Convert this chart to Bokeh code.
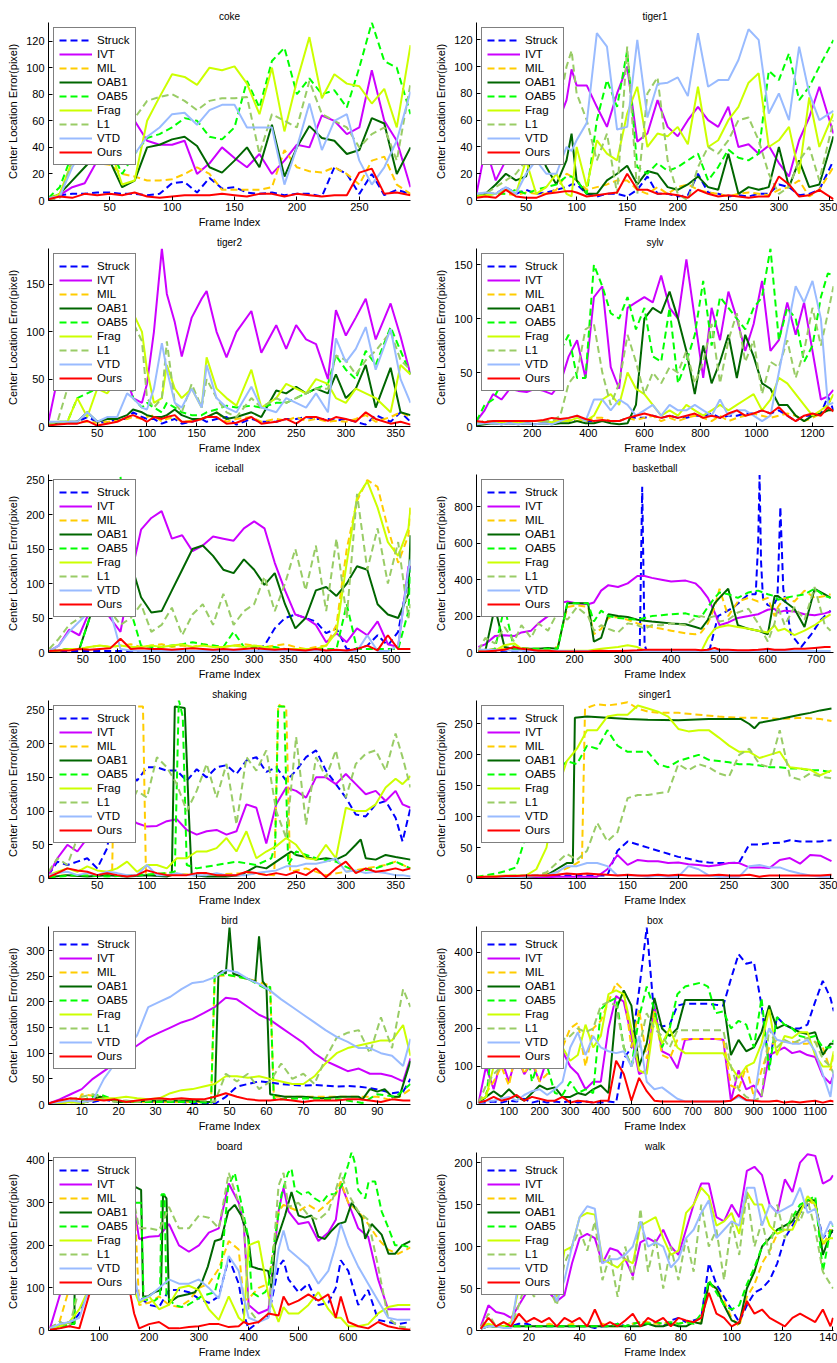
from bokeh.plotting import figure
from bokeh.layouts import gridplot
from bokeh.models import FixedTicker, Range1d, Legend, LegendItem
from bokeh.embed import file_html
from bokeh.resources import INLINE

SERIES = ["Struck", "IVT", "MIL", "OAB1", "OAB5", "Frag", "L1", "VTD", "Ours"]
COLORS = {"Struck": "#0000FF", "IVT": "#CC00FF", "MIL": "#FFCC00", "OAB1": "#006600",
          "OAB5": "#00FF00", "Frag": "#CCFF00", "L1": "#99CC66", "VTD": "#99BBFF", "Ours": "#FF0000"}
DASHED = {"Struck", "MIL", "OAB5", "L1"}
FONT = "Liberation Sans"

# ---------------- coke ----------------
coke_x = [1,10,20,30,40,50,60,70,80,90,100,110,120,130,140,150,160,170,180,190,200,210,220,230,240,250,260,270,280,291]
coke_struck = [2,4,5,5,6,6,5,5,4,5,13,14,6,17,9,10,6,5,6,4,5,5,3,25,20,5,20,4,8,5]
coke_ivt = [2,4,10,13,30,45,40,60,45,42,42,45,20,28,40,32,25,35,20,30,42,40,64,60,50,55,98,60,45,10]
coke_mil = [2,5,28,30,28,27,20,18,15,15,16,20,25,20,8,8,8,8,10,38,25,22,21,25,20,12,30,33,12,5]
coke_oab1 = [1,5,15,25,35,30,10,15,40,42,46,48,41,25,21,30,40,25,57,18,40,56,47,45,35,38,62,58,20,40]
coke_oab5 = [2,10,35,40,45,40,20,35,47,50,55,62,60,48,46,55,90,70,105,115,80,92,80,83,70,100,134,105,100,65]
coke_frag = [1,5,30,35,40,40,12,15,60,78,95,93,87,100,98,101,88,65,100,52,90,123,77,95,88,86,73,84,55,117]
coke_l1 = [0,2,30,32,40,45,50,62,75,78,80,75,68,75,77,77,78,35,65,60,55,90,65,60,55,40,50,55,30,88]
coke_vtd = [2,3,25,40,45,45,40,35,48,55,65,66,57,68,72,72,55,55,55,12,40,73,38,60,65,30,12,25,45,82]
coke_ours = [1,3,2,5,4,5,4,6,3,2,3,4,4,4,5,4,3,5,5,3,5,4,3,4,4,21,24,5,6,4]

# ---------------- tiger1 ----------------
tiger1_x = [1,10,20,30,40,50,60,70,80,90,95,100,110,120,130,140,150,160,170,180,190,200,210,220,230,240,250,260,270,280,290,300,310,320,330,340,354]
tiger1_struck = [3,5,5,10,5,8,5,6,8,10,12,12,5,3,5,5,3,8,18,5,5,3,4,20,6,5,3,4,3,5,5,12,10,4,5,8,30]
tiger1_ivt = [5,40,15,30,40,45,50,55,55,75,98,86,86,70,55,80,100,44,50,75,55,48,60,70,60,55,70,40,42,35,41,28,18,45,62,85,50]
tiger1_mil = [3,5,5,5,4,6,5,5,8,20,18,15,8,10,12,15,15,8,5,10,5,10,12,8,6,5,3,5,6,5,4,8,10,15,3,8,25]
tiger1_oab1 = [3,5,12,20,15,18,45,25,12,30,50,15,5,5,15,20,26,12,22,20,10,8,12,18,10,8,35,5,10,8,10,40,10,30,10,12,48]
tiger1_oab5 = [3,4,5,5,8,5,8,10,12,18,18,15,5,60,90,70,112,25,20,28,22,25,30,35,15,25,38,32,30,35,97,90,110,75,85,100,120]
tiger1_frag = [3,4,5,8,5,30,5,10,20,5,3,40,10,45,35,30,65,85,40,50,48,55,42,85,40,45,60,70,88,95,40,45,55,20,77,40,65]
tiger1_l1 = [5,5,10,15,20,30,40,50,60,100,112,80,60,30,50,5,115,5,80,92,30,5,0,25,40,35,45,60,62,45,20,5,10,30,40,15,60]
tiger1_vtd = [5,6,5,10,5,20,30,20,20,40,37,45,58,125,115,53,55,120,62,87,88,92,78,125,85,90,90,105,128,120,65,80,60,115,80,60,67]
tiger1_ours = [2,3,2,8,3,2,2,5,6,7,7,6,3,4,5,6,20,8,8,5,5,4,2,8,5,3,4,3,2,3,3,18,12,3,4,8,1]

# ---------------- tiger2 ----------------
tiger2_x = [1,10,20,30,40,50,60,70,80,86,95,100,107,115,120,128,135,145,155,160,170,180,190,205,215,230,240,250,260,270,282,290,300,310,320,330,345,355,365]
tiger2_struck = [3,3,4,5,10,5,4,8,8,15,10,8,8,3,5,8,3,5,8,5,8,10,2,8,5,5,8,8,10,8,8,6,8,5,2,12,5,15,5]
tiger2_ivt = [5,50,90,110,120,115,100,80,50,30,25,45,100,188,140,110,74,115,135,143,100,73,100,122,78,107,82,107,92,87,50,123,96,115,135,92,130,95,55]
tiger2_mil = [3,3,4,5,5,4,5,6,8,10,8,10,12,5,8,10,5,6,8,10,15,5,8,10,5,8,6,10,6,8,5,6,5,8,12,5,10,15,10]
tiger2_oab1 = [3,4,5,5,15,5,8,8,12,18,15,12,10,10,12,18,12,8,8,10,15,8,10,15,10,38,35,42,35,40,35,55,30,40,65,20,62,15,12]
tiger2_oab5 = [3,5,5,30,35,40,45,50,110,30,20,25,20,15,25,20,15,12,12,15,18,22,20,22,20,25,25,30,35,40,45,75,60,50,80,65,105,80,55]
tiger2_frag = [3,5,5,30,10,40,35,50,135,120,100,60,25,30,65,40,30,40,20,73,40,30,22,60,20,30,45,40,35,50,45,30,25,40,35,30,15,65,55]
tiger2_l1 = [3,5,40,50,45,60,70,100,120,110,90,30,20,30,90,25,15,45,20,50,30,15,10,30,20,30,25,30,35,40,40,75,70,55,70,80,100,70,60]
tiger2_vtd = [5,5,5,5,15,5,10,10,35,30,20,18,40,88,60,25,20,40,20,65,30,20,15,42,20,15,30,25,20,35,15,93,68,82,105,60,103,50,25]
tiger2_ours = [1,2,3,3,6,1,3,5,10,12,8,5,10,8,10,12,5,5,8,10,10,3,4,10,3,5,8,3,10,10,6,10,8,5,15,8,3,5,2]

# ---------------- sylv ----------------
sylv_x = [1,30,60,90,120,150,180,210,240,270,300,330,360,390,420,450,480,510,540,570,600,630,660,690,720,750,780,810,840,870,900,930,960,990,1020,1050,1080,1110,1140,1170,1200,1230,1255,1275]
sylv_struck = [2,5,5,4,5,5,5,5,5,4,6,5,5,5,5,5,5,5,8,8,8,10,8,10,8,8,10,10,12,8,10,10,12,12,15,12,15,10,5,10,10,12,28,15]
sylv_ivt = [5,15,30,25,35,33,32,35,33,30,40,65,80,45,120,130,55,35,110,115,120,115,140,110,100,155,100,45,110,80,125,100,70,95,135,70,80,115,85,115,70,25,28,34]
sylv_mil = [3,5,5,4,5,5,5,5,5,6,5,6,5,5,8,8,5,5,8,6,8,10,5,8,5,8,10,8,5,10,5,8,10,12,10,8,10,12,10,5,8,12,15,15]
sylv_oab1 = [1,2,3,2,3,2,3,2,3,2,3,3,5,3,3,5,3,2,3,20,100,110,105,125,100,70,30,75,40,60,85,45,85,65,40,35,20,20,10,5,10,12,15,15]
sylv_oab5 = [5,20,25,40,45,40,45,50,55,60,70,85,45,45,150,130,105,100,120,90,110,65,60,110,40,60,85,135,75,120,110,100,90,110,120,165,80,110,100,60,75,120,142,140]
sylv_frag = [3,3,5,4,5,3,5,5,5,4,5,5,8,5,10,25,30,20,50,35,30,20,10,15,10,20,15,10,15,20,15,20,25,30,15,25,45,40,30,20,10,15,20,30]
sylv_l1 = [3,5,5,5,5,5,5,5,5,5,10,40,50,90,95,50,20,40,85,60,30,50,40,55,50,70,40,60,95,40,80,105,60,80,30,60,55,80,45,70,110,75,105,130]
sylv_vtd = [2,3,3,2,3,2,3,2,3,2,5,8,10,5,25,25,15,25,20,10,15,20,10,20,15,15,20,15,10,25,10,15,15,10,5,10,50,90,130,115,135,100,20,22]
sylv_ours = [5,4,5,5,5,5,5,5,6,8,7,8,10,7,5,6,5,5,8,10,12,10,8,10,8,10,12,8,10,8,12,15,10,12,15,12,18,10,5,10,12,10,18,14]

# ---------------- iceball ----------------
iceball_x = [1,15,30,45,60,75,90,105,120,135,150,165,180,195,210,225,240,255,270,285,300,315,330,345,360,375,390,405,420,435,450,465,480,495,510,525,528]
iceball_struck = [2,2,2,2,2,2,2,2,2,2,2,2,2,2,2,2,2,2,2,2,2,10,35,50,55,50,45,28,35,5,5,10,25,10,30,110,125]
iceball_ivt = [2,10,33,25,60,70,50,30,110,178,195,205,165,170,147,155,168,165,162,180,190,180,130,90,55,50,40,15,28,15,35,25,45,12,8,125,125]
iceball_mil = [2,3,5,5,8,10,8,10,12,8,10,12,8,10,8,12,10,8,10,12,10,8,10,12,8,5,8,10,40,150,220,250,240,180,130,170,210]
iceball_oab1 = [2,3,5,5,50,100,150,170,130,80,58,60,90,120,150,155,140,120,115,135,120,98,115,70,35,50,90,95,82,100,125,120,70,55,50,85,170]
iceball_oab5 = [2,3,5,5,50,80,150,255,60,10,8,8,10,12,15,12,10,8,30,8,8,8,8,5,5,5,5,5,5,70,5,5,5,5,5,60,120]
iceball_frag = [2,3,5,5,8,10,8,10,8,8,10,8,10,12,8,10,8,8,10,8,10,8,5,5,5,5,5,10,30,130,225,248,210,160,140,180,210]
iceball_l1 = [5,20,40,50,60,70,60,40,50,70,30,40,65,25,55,70,40,85,40,60,70,110,60,100,150,90,155,60,165,50,230,120,180,100,160,50,70]
iceball_vtd = [2,10,30,45,60,70,60,5,3,2,2,2,2,2,2,2,2,2,2,2,2,2,2,2,2,2,3,2,3,2,2,25,2,2,10,120,135]
iceball_ours = [2,3,3,5,4,5,6,20,5,6,5,5,4,5,6,5,4,5,4,5,6,5,4,5,4,3,5,3,4,3,5,10,3,25,5,5,5]

# ---------------- basketball ----------------
basketball_x = [1,15,35,55,75,90,110,125,145,165,185,205,228,240,255,270,290,310,330,345,360,380,400,430,450,462,476,490,500,518,538,560,580,600,614,621,635,655,676,697,718,730]
basketball_struck_x = [1,50,100,150,200,250,300,330,335,340,345,350,400,450,465,480,497,530,560,575,580,583,586,590,600,610,620,626,632,648,669,690,710,730]
basketball_struck = [5,5,5,5,5,5,5,5,40,910,40,5,5,5,5,20,200,250,320,320,600,975,500,300,260,250,300,800,350,100,30,100,180,230]
basketball_ivt = [30,45,90,95,90,110,120,160,200,270,280,270,265,275,340,370,360,380,420,420,410,400,390,395,380,350,300,220,150,165,190,200,210,235,240,220,230,225,210,205,215,225]
basketball_mil = [10,15,20,20,20,25,20,20,20,30,250,260,250,100,130,190,195,180,160,150,140,130,120,105,100,110,160,250,350,200,280,300,280,300,200,250,300,280,340,300,310,320]
basketball_oab1 = [5,5,250,30,20,20,20,20,25,20,270,270,270,60,80,210,200,195,180,175,170,165,160,155,140,130,180,270,300,350,150,130,120,100,310,310,280,240,140,350,320,300]
basketball_oab5 = [5,5,20,250,20,20,20,20,20,20,270,270,270,170,230,200,190,185,180,190,200,205,210,215,200,195,250,300,330,320,300,330,340,320,310,290,300,310,320,350,310,300]
basketball_frag = [10,15,10,40,50,20,15,10,10,8,10,10,10,15,20,25,30,40,30,10,5,5,5,5,5,5,80,130,140,150,140,130,120,110,150,120,130,95,120,150,190,210]
basketball_l1 = [10,80,50,140,60,150,80,160,120,220,180,250,200,120,150,130,110,160,150,130,150,150,160,150,190,200,190,200,170,180,220,240,160,60,160,250,150,250,180,360,150,120]
basketball_vtd = [15,15,15,12,10,10,10,10,10,10,8,8,8,8,8,8,8,8,8,8,8,8,8,8,8,8,8,8,8,8,8,8,8,8,8,8,8,8,8,8,8,8]
basketball_ours = [5,5,10,15,30,20,15,10,10,5,5,5,5,8,10,8,8,10,12,15,15,15,15,15,15,12,15,25,15,15,12,12,15,20,15,15,15,20,20,25,30,30]

# ---------------- shaking ----------------
shaking_x = [1,10,20,30,40,50,60,70,80,90,100,110,120,130,140,150,160,170,180,190,200,210,220,230,240,250,260,270,280,290,300,310,320,330,340,350,357,365]
shaking_struck = [5,25,20,25,30,15,45,140,160,145,165,165,160,160,145,162,150,165,168,155,175,180,158,165,145,160,180,190,160,140,120,95,92,110,115,90,55,105]
shaking_ivt = [5,30,50,40,60,75,85,90,90,82,77,78,85,88,72,65,70,72,65,70,110,105,52,110,135,130,120,150,150,140,155,140,125,130,115,130,110,105]
shaking_mil_x = [1,20,40,60,65,68,90,96,99,120,150,200,228,232,236,240,244,260,280,300,320,340,350,365]
shaking_mil = [3,5,5,5,10,255,255,255,5,8,5,8,5,258,255,255,10,15,5,10,15,20,25,15]
shaking_oab1_x = [1,20,40,60,80,100,120,125,128,138,142,145,160,180,195,200,210,220,230,240,245,250,260,270,280,290,300,310,315,320,330,340,350,365]
shaking_oab1 = [2,5,3,5,3,5,3,5,255,253,100,5,3,3,5,10,18,15,25,35,40,35,32,28,30,28,35,50,58,30,28,35,32,28]
shaking_oab5_x = [1,30,60,90,120,128,132,136,140,150,170,190,210,225,229,232,238,242,250,270,290,310,330,350,365]
shaking_oab5 = [2,5,3,5,8,10,265,240,20,15,20,25,20,30,50,255,255,20,40,30,25,10,15,25,15]
shaking_frag = [5,10,15,10,18,12,10,15,25,10,20,20,15,30,30,40,40,45,60,40,70,30,40,48,60,50,30,28,50,30,105,100,100,110,135,148,140,152]
shaking_l1 = [10,30,20,60,80,60,140,160,100,130,120,180,165,140,100,130,170,120,170,80,180,160,190,100,60,210,80,180,150,190,120,170,185,190,160,215,180,135]
shaking_vtd = [5,8,10,5,8,5,10,8,5,5,20,5,5,8,5,5,5,8,5,5,5,8,10,12,18,18,22,22,25,30,10,12,8,10,8,5,5,3]
shaking_ours = [2,8,15,12,10,5,8,5,3,5,12,8,5,5,5,8,8,5,5,5,10,8,5,8,5,10,5,15,2,15,25,8,15,10,12,15,12,15]

# ---------------- singer1 ----------------
singer1_x = [1,10,20,30,40,50,60,70,80,90,100,110,120,130,140,150,160,170,180,190,200,210,220,230,240,250,260,270,280,290,300,310,320,330,340,351]
singer1_struck = [2,3,3,3,4,4,5,5,5,5,5,5,5,5,45,60,55,50,45,40,35,32,28,26,25,25,26,55,55,57,58,62,60,60,60,62]
singer1_ivt = [1,1,2,2,2,2,2,2,3,3,3,3,3,15,38,22,30,28,28,25,26,23,22,20,22,25,25,18,18,17,30,33,24,38,37,28]
singer1_mil_x = [1,50,80,95,100,105,108,120,130,140,150,160,170,180,200,220,240,260,280,300,320,340,351]
singer1_mil = [2,3,10,20,25,30,275,282,280,282,285,275,270,268,268,265,262,260,260,258,260,258,255]
singer1_oab1_x = [1,50,70,80,90,96,98,110,130,150,170,200,230,262,270,275,280,300,320,330,340,351]
singer1_oab1 = [1,3,5,15,25,25,260,262,260,258,257,256,258,258,250,243,252,258,265,268,272,275]
singer1_oab5 = [3,5,8,12,18,70,130,160,170,190,185,215,210,240,215,205,205,205,185,180,190,195,200,192,190,188,185,185,183,180,180,178,178,175,175,172]
singer1_frag = [3,3,4,5,5,5,15,50,140,190,210,240,240,262,265,265,280,275,270,262,242,238,240,240,228,215,205,205,195,200,205,180,178,176,167,175]
singer1_l1 = [2,2,3,4,5,5,5,10,25,40,30,45,90,60,75,130,135,135,138,140,185,175,185,180,170,165,200,210,185,180,240,165,160,170,165,162]
singer1_vtd = [2,2,2,2,2,3,4,5,10,20,20,25,25,20,5,5,5,3,5,3,3,20,15,5,3,3,3,20,22,18,18,12,8,5,3,3]
singer1_ours = [2,3,3,4,4,5,5,5,6,8,7,8,7,6,5,6,5,5,6,5,6,5,5,5,6,5,5,6,3,5,5,5,5,5,5,6]

# ---------------- bird ----------------
bird_x = [1,4,7,10,13,16,19,22,25,28,31,34,37,40,43,46,49,52,55,58,61,64,67,70,73,76,79,82,85,88,91,94,97,99]
bird_struck = [2,5,5,5,5,10,5,5,5,5,5,5,5,3,3,1,15,35,40,45,43,40,38,37,38,37,35,36,35,32,28,22,25,50]
bird_ivt = [2,10,20,30,50,65,80,100,115,130,140,150,160,167,178,190,208,205,190,175,165,150,135,120,100,85,75,65,70,60,60,55,45,90]
bird_mil_x = [1,5,9,10,15,20,30,40,45,46,50,55,61,62,70,80,85,90,93,96,99]
bird_mil = [2,3,5,20,15,5,5,5,5,250,252,245,232,15,15,15,15,15,10,15,30]
bird_oab1_x = [1,5,10,15,20,30,40,44,46,47,48,49,50,51,53,56,57,58,59,60,61,65,70,75,80,85,86,88,90,92,94,96,99]
bird_oab1 = [2,8,3,15,5,8,8,5,5,255,260,255,345,255,250,242,240,328,240,230,20,15,15,12,15,15,10,30,25,30,15,15,85]
bird_oab5_x = [1,5,10,15,20,30,40,45,46,50,55,60,61,62,70,80,86,90,95,99]
bird_oab5 = [2,5,8,20,5,5,5,3,255,252,245,225,230,10,12,10,3,20,15,40]
bird_frag = [2,3,5,3,8,12,12,15,12,10,12,22,28,30,35,40,55,55,52,55,50,45,40,40,55,80,100,110,115,120,125,125,155,95]
bird_l1 = [2,5,10,15,20,10,5,8,5,8,10,8,10,10,8,5,60,45,60,30,45,80,50,60,40,90,130,140,145,100,170,110,225,190]
bird_vtd = [2,5,8,5,8,50,80,110,135,190,200,210,225,237,240,248,262,258,245,235,222,205,190,175,160,145,132,122,110,110,100,95,75,128]
bird_ours = [2,8,12,10,10,8,10,5,8,10,12,10,12,10,10,15,22,15,10,8,8,10,8,5,8,8,8,10,10,8,5,10,8,8]

# ---------------- box ----------------
box_x = [1,25,50,75,100,125,150,175,200,225,250,275,300,325,350,375,400,425,450,475,500,525,550,575,600,625,650,675,700,725,750,775,800,825,850,875,900,925,950,975,1000,1025,1050,1075,1100,1125,1150,1161]
box_struck = [5,5,8,5,10,8,15,5,10,5,8,5,10,5,8,5,5,8,5,120,150,300,465,230,205,210,260,265,265,265,265,262,260,330,395,370,375,260,100,230,210,200,200,210,270,325,280,245]
box_ivt = [5,100,40,120,60,130,80,110,60,120,150,140,100,80,40,60,60,200,285,270,180,80,90,260,140,130,95,170,172,172,172,172,170,10,90,40,50,20,130,140,150,135,140,130,125,75,55,80]
box_mil = [5,30,60,100,50,150,80,120,60,80,235,150,200,215,100,200,220,270,320,300,150,250,120,250,130,120,170,172,172,172,172,172,172,50,40,100,20,90,150,170,165,165,160,160,165,150,90,130]
box_oab1 = [5,20,35,20,40,20,10,30,50,40,45,20,20,30,25,40,50,30,250,300,260,100,160,280,200,180,200,275,275,275,275,275,275,130,170,140,150,190,260,200,210,200,190,185,190,130,160,160]
box_oab5 = [5,10,200,100,150,120,200,60,120,100,30,25,60,30,40,30,250,270,280,150,100,230,310,250,150,200,290,310,315,320,310,240,245,200,220,210,150,280,90,230,210,200,180,175,180,150,150,170]
box_frag = [10,20,100,150,200,120,150,100,150,200,290,150,115,130,210,150,180,290,300,290,200,90,80,230,160,200,150,135,135,135,135,135,135,100,70,100,110,160,250,130,180,175,190,190,130,100,100,140]
box_l1 = [5,50,80,100,120,100,150,120,150,140,180,170,180,200,190,200,260,270,260,150,100,150,240,200,180,150,195,195,195,195,195,195,195,100,40,20,10,20,200,150,170,160,170,175,165,120,100,80]
box_vtd = [5,10,10,15,20,10,25,35,40,25,40,60,150,190,130,180,150,140,135,140,100,180,60,40,45,30,15,8,8,8,8,8,8,10,20,10,10,140,200,170,165,160,160,170,140,80,20,90]
box_ours = [5,10,20,10,15,25,10,20,15,10,10,20,5,10,8,5,10,10,115,80,10,70,35,10,8,8,8,8,8,8,8,8,8,10,25,12,10,8,8,10,5,8,5,8,10,5,10,8]

# ---------------- board ----------------
board_x = [1,20,40,60,80,100,120,140,160,170,180,200,220,240,260,280,300,320,340,360,380,390,400,420,440,460,470,480,500,520,540,560,575,585,600,620,640,660,680,700,725]
board_struck = [5,20,10,40,100,110,105,100,110,115,80,60,55,95,95,90,75,65,80,170,110,40,2,20,35,150,165,120,90,110,60,65,100,165,140,60,95,25,20,15,20]
board_ivt = [5,80,150,250,300,300,310,310,300,290,215,220,222,250,200,185,200,230,240,345,300,250,60,40,50,280,335,280,250,255,210,230,260,345,300,240,220,120,50,50,50]
board_mil = [5,20,100,300,400,400,400,405,350,320,60,65,80,60,55,70,100,110,145,210,190,70,75,100,110,280,295,290,280,295,280,300,320,350,300,280,250,215,190,180,195]
board_oab1_x = [1,20,40,50,52,80,120,150,167,184,188,198,211,224,228,235,240,258,278,292,305,318,332,345,359,372,385,399,406,419,439,446,453,473,486,500,513,526,540,553,567,580,594,607,627,634,647,667,681,694,708,725]
board_oab1 = [2,10,20,15,400,350,350,350,340,330,80,80,90,95,320,310,65,80,85,90,110,150,210,215,280,295,270,220,150,145,140,100,200,270,325,270,265,270,220,215,235,250,255,300,265,215,250,225,180,180,200,210]
board_oab5_x = [1,20,40,50,53,80,120,150,171,184,189,200,211,222,225,231,235,251,265,278,292,305,318,332,345,359,372,385,399,406,419,433,439,453,466,479,486,493,506,520,533,547,560,573,587,600,607,614,620,634,641,654,667,681,694,708,725]
board_oab5 = [2,5,15,15,300,380,390,400,300,300,75,70,70,80,320,320,80,60,55,60,70,80,85,90,150,340,370,300,220,90,80,90,100,220,320,370,380,330,320,325,310,300,320,320,340,390,420,390,330,310,350,350,280,240,200,200,195]
board_frag = [5,10,20,50,100,110,105,100,100,95,65,80,50,60,100,105,95,50,25,80,30,20,200,210,80,20,55,40,40,60,90,50,30,30,10,10,15,40,55,60,60]
board_l1 = [5,20,10,100,300,310,310,305,300,300,240,240,235,290,240,240,270,265,240,370,300,260,50,20,40,340,370,290,300,270,260,280,330,370,320,280,260,150,30,10,5]
board_vtd = [5,15,20,30,100,120,130,140,140,135,70,80,100,120,110,110,120,100,75,175,140,80,30,20,30,190,235,190,170,150,110,140,200,250,200,150,110,70,30,25,25]
board_ours = [2,5,10,5,85,90,100,110,100,40,5,15,20,5,5,8,10,15,15,8,10,20,15,20,40,35,80,60,70,85,70,85,30,80,20,10,5,20,10,5,2]

# ---------------- walk ----------------
walk_x = [1,4,7,10,13,16,19,22,25,28,31,34,37,40,43,46,49,52,55,58,61,64,67,70,73,76,79,82,85,88,91,94,97,100,103,106,109,112,115,118,121,124,127,130,133,136,139,140]
walk_struck = [3,5,5,5,5,8,8,5,5,5,5,5,5,5,5,3,5,5,8,5,8,10,8,10,5,12,15,10,12,15,80,55,40,25,10,30,45,50,60,80,110,125,140,150,150,110,120,115]
walk_ivt = [5,30,22,20,15,30,45,55,50,45,35,42,80,110,115,110,80,98,95,85,65,105,110,105,120,100,90,120,150,175,175,135,130,150,135,190,195,185,150,140,180,165,200,210,208,175,180,185]
walk_mil = [3,5,5,5,5,5,5,5,5,8,5,5,8,5,5,5,8,5,5,5,8,10,10,8,8,10,8,10,8,10,55,50,35,15,5,40,55,80,95,115,120,130,145,155,150,100,120,118]
walk_oab1 = [2,5,5,5,5,5,5,5,5,5,5,5,5,5,5,5,5,5,5,5,5,5,8,5,5,8,5,5,10,8,57,50,30,12,8,50,70,100,110,120,125,130,145,155,155,90,115,120]
walk_oab5 = [3,5,5,5,5,5,5,5,5,5,5,5,5,5,5,5,5,5,8,5,8,10,8,10,8,10,8,10,8,20,60,45,30,25,30,55,75,100,110,120,120,135,150,155,160,70,120,125]
walk_frag = [5,8,5,5,10,50,70,60,55,50,40,95,100,135,140,138,85,80,75,85,80,125,130,135,110,90,95,140,150,170,160,125,130,140,115,165,150,150,125,115,120,120,140,160,150,105,110,110]
walk_l1 = [3,20,5,10,5,30,60,40,60,50,30,80,100,120,95,130,60,90,40,100,60,145,70,110,50,100,60,110,70,150,100,120,60,130,90,165,100,130,90,150,110,140,130,155,120,70,55,50]
walk_vtd = [2,5,5,3,3,60,60,70,75,60,35,60,100,135,148,145,80,85,85,90,100,130,100,105,100,75,85,110,120,140,155,110,120,130,125,170,170,125,150,140,145,150,170,140,145,110,130,125]
walk_ours = [2,15,5,10,5,20,10,15,10,15,5,15,10,15,5,25,5,10,5,12,20,5,15,10,15,5,15,12,10,15,45,20,15,5,10,35,20,25,15,10,5,15,20,15,10,25,5,15]

# ---------------- axis ticks ----------------
coke_xticks = [50, 100, 150, 200, 250]
tiger_xticks = [50, 100, 150, 200, 250, 300, 350]
sylv_xticks = [200, 400, 600, 800, 1000, 1200]
iceball_xticks = [50, 100, 150, 200, 250, 300, 350, 400, 450, 500]
basketball_xticks = [100, 200, 300, 400, 500, 600, 700]
bird_xticks = [10, 20, 30, 40, 50, 60, 70, 80, 90]
box_xticks = [100, 200, 300, 400, 500, 600, 700, 800, 900, 1000, 1100]
board_xticks = [100, 200, 300, 400, 500, 600]
walk_xticks = [20, 40, 60, 80, 100, 120, 140]
yticks_20 = [0, 20, 40, 60, 80, 100, 120]
yticks_50 = [0, 50, 100, 150, 200, 250, 300]
yticks_100 = [0, 100, 200, 300, 400]
yticks_200 = [0, 200, 400, 600, 800]


def series(x, **vals):
    out = {}
    for name in SERIES:
        v = vals[name]
        if isinstance(v, tuple):
            xs, ys = v
        else:
            xs, ys = x, v
        if len(xs) != len(ys):
            raise ValueError("length mismatch %s: %d vs %d" % (name, len(xs), len(ys)))
        out[name] = (xs, ys)
    return out


def panel(title, data, xr, ytop, xt, yt, col, row):
    left = 48 if col == 0 else 58
    right = 8 if col == 0 else 4
    w = 418 if col == 0 else 419
    top = 22 if row == 0 else 14
    bottom = 31 if row == 5 else 34
    h = top + 178 + bottom
    p = figure(width=w, height=h, x_range=Range1d(*xr), y_range=Range1d(0, ytop),
               output_backend="svg", toolbar_location=None, title=title,
               min_border_left=left, min_border_right=right,
               min_border_top=top, min_border_bottom=bottom)
    p.title.align = "center"
    p.title.text_font = FONT
    p.title.text_font_size = "10px"
    p.title.text_font_style = "normal"
    p.title.text_color = "black"
    p.title.standoff = 1
    p.outline_line_color = None
    p.xgrid.visible = False
    p.ygrid.visible = False
    p.background_fill_color = "white"
    p.border_fill_color = "white"
    for ax in (p.xaxis[0], p.yaxis[0]):
        ax.major_tick_in = 4
        ax.major_tick_out = 0
        ax.minor_tick_line_color = None
        ax.major_label_text_font = FONT
        ax.major_label_text_font_size = "11px"
        ax.major_label_text_color = "black"
        ax.axis_label_text_font = FONT
        ax.axis_label_text_font_size = "11px"
        ax.axis_label_text_font_style = "normal"
        ax.axis_label_text_color = "black"
        ax.axis_line_color = "black"
        ax.major_tick_line_color = "black"
    p.xaxis.ticker = FixedTicker(ticks=xt)
    p.yaxis.ticker = FixedTicker(ticks=yt)
    p.xaxis.axis_label = "Frame Index"
    p.yaxis.axis_label = "Center Location Error(pixel)"
    p.xaxis.major_label_standoff = 2
    p.xaxis.axis_label_standoff = 2
    p.yaxis.major_label_standoff = 4
    p.yaxis.axis_label_standoff = 4
    items = []
    for name in SERIES:
        xs, ys = data[name]
        r = p.line(xs, ys, line_color=COLORS[name], line_width=2,
                   line_dash="7 4" if name in DASHED else "solid")
        items.append(LegendItem(label=name, renderers=[r]))
    leg = Legend(items=items, location="top_left", margin=5, padding=5, spacing=0,
                 label_height=14, glyph_height=14, glyph_width=33, label_standoff=5,
                 label_text_font=FONT, label_text_font_size="11.5px", label_text_color="black",
                 border_line_color="black", border_line_width=1.5,
                 background_fill_color="white", background_fill_alpha=1.0)
    p.add_layout(leg)
    return p


coke = series(coke_x, Struck=coke_struck, IVT=coke_ivt, MIL=coke_mil, OAB1=coke_oab1, OAB5=coke_oab5,
              Frag=coke_frag, L1=coke_l1, VTD=coke_vtd, Ours=coke_ours)
tiger1 = series(tiger1_x, Struck=tiger1_struck, IVT=tiger1_ivt, MIL=tiger1_mil, OAB1=tiger1_oab1, OAB5=tiger1_oab5,
                Frag=tiger1_frag, L1=tiger1_l1, VTD=tiger1_vtd, Ours=tiger1_ours)
tiger2 = series(tiger2_x, Struck=tiger2_struck, IVT=tiger2_ivt, MIL=tiger2_mil, OAB1=tiger2_oab1, OAB5=tiger2_oab5,
                Frag=tiger2_frag, L1=tiger2_l1, VTD=tiger2_vtd, Ours=tiger2_ours)
sylv = series(sylv_x, Struck=sylv_struck, IVT=sylv_ivt, MIL=sylv_mil, OAB1=sylv_oab1, OAB5=sylv_oab5,
              Frag=sylv_frag, L1=sylv_l1, VTD=sylv_vtd, Ours=sylv_ours)
iceball = series(iceball_x, Struck=iceball_struck, IVT=iceball_ivt, MIL=iceball_mil, OAB1=iceball_oab1,
                 OAB5=iceball_oab5, Frag=iceball_frag, L1=iceball_l1, VTD=iceball_vtd, Ours=iceball_ours)
basketball = series(basketball_x, Struck=(basketball_struck_x, basketball_struck), IVT=basketball_ivt,
                    MIL=basketball_mil, OAB1=basketball_oab1, OAB5=basketball_oab5, Frag=basketball_frag,
                    L1=basketball_l1, VTD=basketball_vtd, Ours=basketball_ours)
shaking = series(shaking_x, Struck=shaking_struck, IVT=shaking_ivt, MIL=(shaking_mil_x, shaking_mil),
                 OAB1=(shaking_oab1_x, shaking_oab1), OAB5=(shaking_oab5_x, shaking_oab5), Frag=shaking_frag,
                 L1=shaking_l1, VTD=shaking_vtd, Ours=shaking_ours)
singer1 = series(singer1_x, Struck=singer1_struck, IVT=singer1_ivt, MIL=(singer1_mil_x, singer1_mil),
                 OAB1=(singer1_oab1_x, singer1_oab1), OAB5=singer1_oab5, Frag=singer1_frag, L1=singer1_l1,
                 VTD=singer1_vtd, Ours=singer1_ours)
bird = series(bird_x, Struck=bird_struck, IVT=bird_ivt, MIL=(bird_mil_x, bird_mil), OAB1=(bird_oab1_x, bird_oab1),
              OAB5=(bird_oab5_x, bird_oab5), Frag=bird_frag, L1=bird_l1, VTD=bird_vtd, Ours=bird_ours)
box = series(box_x, Struck=box_struck, IVT=box_ivt, MIL=box_mil, OAB1=box_oab1, OAB5=box_oab5,
             Frag=box_frag, L1=box_l1, VTD=box_vtd, Ours=box_ours)
board = series(board_x, Struck=board_struck, IVT=board_ivt, MIL=board_mil, OAB1=(board_oab1_x, board_oab1),
               OAB5=(board_oab5_x, board_oab5), Frag=board_frag, L1=board_l1, VTD=board_vtd, Ours=board_ours)
walk = series(walk_x, Struck=walk_struck, IVT=walk_ivt, MIL=walk_mil, OAB1=walk_oab1, OAB5=walk_oab5,
              Frag=walk_frag, L1=walk_l1, VTD=walk_vtd, Ours=walk_ours)

rows = [
    [panel("coke", coke, (1, 291), 134, coke_xticks, yticks_20, 0, 0),
     panel("tiger1", tiger1, (1, 354), 133, tiger_xticks, yticks_20, 1, 0)],
    [panel("tiger2", tiger2, (1, 365), 188, tiger_xticks, yticks_50, 0, 1),
     panel("sylv", sylv, (1, 1275), 165, sylv_xticks, yticks_50, 1, 1)],
    [panel("iceball", iceball, (0, 528), 258, iceball_xticks, yticks_50, 0, 2),
     panel("basketball", basketball, (-3, 736), 978, basketball_xticks, yticks_200, 1, 2)],
    [panel("shaking", shaking, (1, 365), 264, tiger_xticks, yticks_50, 0, 3),
     panel("singer1", singer1, (1, 353), 288, tiger_xticks, yticks_50, 1, 3)],
    [panel("bird", bird, (1, 99), 347, bird_xticks, yticks_50, 0, 4),
     panel("box", box, (-6, 1160), 468, box_xticks, yticks_100, 1, 4)],
    [panel("board", board, (-2, 725), 418, board_xticks, yticks_100, 0, 5),
     panel("walk", walk, (-0.7, 140.2), 212, walk_xticks, yticks_50, 1, 5)],
]

grid = gridplot(rows, toolbar_location=None)
open("out.html", "w").write(file_html(grid, INLINE, title="Center Location Error"))
